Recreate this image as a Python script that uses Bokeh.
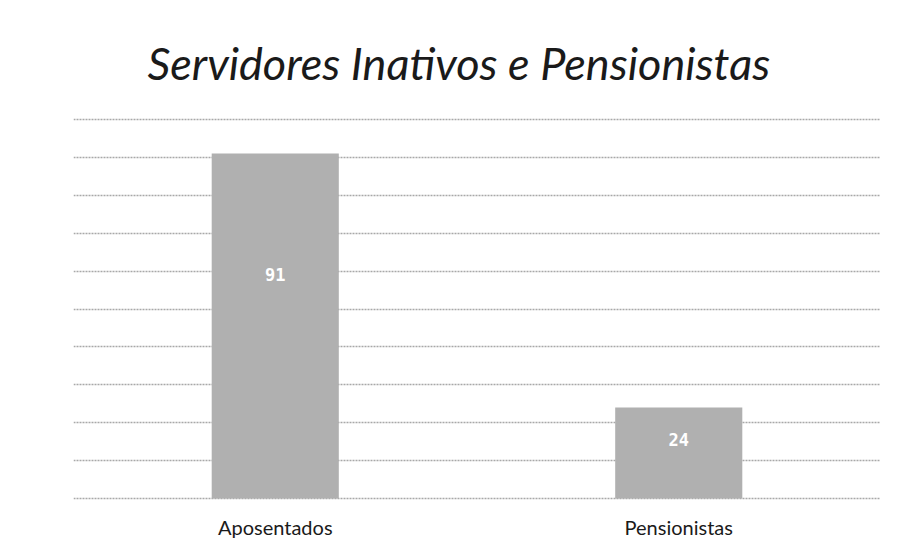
from bokeh.plotting import figure
from bokeh.models import ColumnDataSource, Range1d, FixedTicker, LabelSet
from bokeh.core.properties import value
from bokeh.embed import file_html
from bokeh.resources import INLINE

categories = ["Aposentados", "Pensionistas"]
values = [91, 24]
grid_ticks = [0, 10, 20, 30, 40, 50, 60, 70, 80, 90, 100]

src = ColumnDataSource(dict(
    cat=categories,
    val=values,
    lab_y=[v * 0.65 for v in values],
    lab=[str(v) for v in values],
))

p = figure(
    x_range=categories,
    y_range=Range1d(-0.5, 100.5),
    frame_width=807, frame_height=383,
    output_backend="svg", toolbar_location=None,
    title="Servidores Inativos e Pensionistas",
    min_border_left=73, min_border_right=16,
    min_border_top=117, min_border_bottom=40,
)
p.title.align = "left"
p.title.text_font = "Lato"
p.title.text_font_style = "italic"
p.title.text_font_size = "45px"
p.title.text_color = "#1a1a1a"
p.title.standoff = 56
p.title.offset = 74
p.outline_line_color = None
p.background_fill_color = "white"
p.border_fill_color = "white"

p.vbar(x="cat", top="val", width=0.315, source=src,
       fill_color="#b0b0b0", line_color=None)

labels = LabelSet(x="cat", y="lab_y", text="lab", source=src,
                  text_align="center", text_baseline="middle",
                  text_color="white", text_font=value("DejaVu Sans Mono"),
                  text_font_style="bold", text_font_size=value("17px"))
p.add_layout(labels)

p.yaxis.visible = False
p.xgrid.grid_line_color = None
p.ygrid.ticker = FixedTicker(ticks=grid_ticks)
p.ygrid.grid_line_color = "#a8a8a8"
p.ygrid.grid_line_width = 1.5
p.ygrid.grid_line_dash = "2 1"

p.xaxis.axis_line_color = None
p.xaxis.major_tick_line_color = None
p.xaxis.minor_tick_line_color = None
p.xaxis.major_label_text_font = "Lato"
p.xaxis.major_label_text_font_size = "20px"
p.xaxis.major_label_text_color = "#1a1a1a"
p.xaxis.major_label_standoff = 8

open("out.html", "w").write(file_html(p, INLINE))
